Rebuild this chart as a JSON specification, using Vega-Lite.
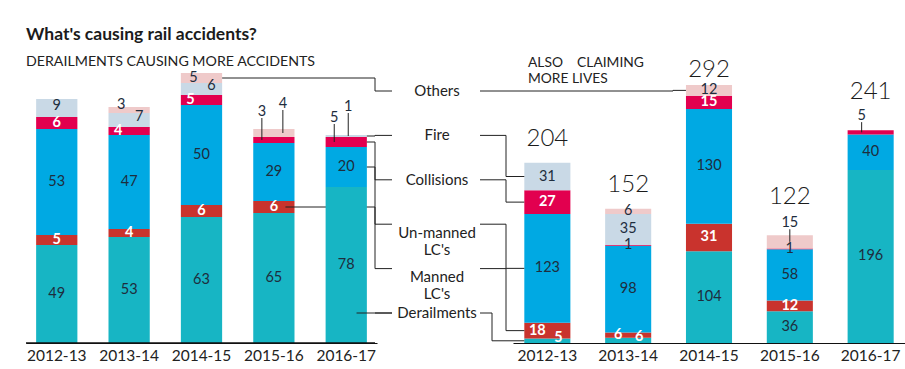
{
  "$schema": "https://vega.github.io/schema/vega-lite/v6.json",
  "width": 879,
  "height": 280,
  "autosize": "none",
  "padding": {"left": 26, "top": 63, "right": 0, "bottom": 26},
  "background": "#ffffff",
  "config": {
    "view": {"stroke": null},
    "font": "Lato",
    "text": {"font": "Lato"},
    "rule": {"color": "#222222", "strokeWidth": 1}
  },
  "title": {
    "text": "What's causing rail accidents?",
    "subtitle": "DERAILMENTS CAUSING MORE ACCIDENTS",
    "anchor": "start",
    "frame": "group",
    "font": "Lato",
    "fontSize": 17.5,
    "fontWeight": "bold",
    "color": "#1b1b1b",
    "subtitleFont": "Lato",
    "subtitleFontSize": 14.2,
    "subtitleColor": "#222222",
    "subtitlePadding": 11,
    "offset": -13
  },
  "datasets": {
    "left": [
      {"year": "2012-13", "cause": "Derailments", "value": 49},
      {"year": "2012-13", "cause": "Manned LC's", "value": 5},
      {"year": "2012-13", "cause": "Un-manned LC's", "value": 53},
      {"year": "2012-13", "cause": "Collisions", "value": 6},
      {"year": "2012-13", "cause": "Fire", "value": 9},
      {"year": "2013-14", "cause": "Derailments", "value": 53},
      {"year": "2013-14", "cause": "Manned LC's", "value": 4},
      {"year": "2013-14", "cause": "Un-manned LC's", "value": 47},
      {"year": "2013-14", "cause": "Collisions", "value": 4},
      {"year": "2013-14", "cause": "Fire", "value": 7},
      {"year": "2013-14", "cause": "Others", "value": 3},
      {"year": "2014-15", "cause": "Derailments", "value": 63},
      {"year": "2014-15", "cause": "Manned LC's", "value": 6},
      {"year": "2014-15", "cause": "Un-manned LC's", "value": 50},
      {"year": "2014-15", "cause": "Collisions", "value": 5},
      {"year": "2014-15", "cause": "Fire", "value": 6},
      {"year": "2014-15", "cause": "Others", "value": 5},
      {"year": "2015-16", "cause": "Derailments", "value": 65},
      {"year": "2015-16", "cause": "Manned LC's", "value": 6},
      {"year": "2015-16", "cause": "Un-manned LC's", "value": 29},
      {"year": "2015-16", "cause": "Collisions", "value": 3},
      {"year": "2015-16", "cause": "Others", "value": 4},
      {"year": "2016-17", "cause": "Derailments", "value": 78},
      {"year": "2016-17", "cause": "Un-manned LC's", "value": 20},
      {"year": "2016-17", "cause": "Collisions", "value": 5},
      {"year": "2016-17", "cause": "Fire", "value": 1}
    ],
    "right": [
      {"year": "2012-13", "cause": "Derailments", "value": 5},
      {"year": "2012-13", "cause": "Manned LC's", "value": 18},
      {"year": "2012-13", "cause": "Un-manned LC's", "value": 123},
      {"year": "2012-13", "cause": "Collisions", "value": 27},
      {"year": "2012-13", "cause": "Fire", "value": 31},
      {"year": "2013-14", "cause": "Derailments", "value": 6},
      {"year": "2013-14", "cause": "Manned LC's", "value": 6},
      {"year": "2013-14", "cause": "Un-manned LC's", "value": 98},
      {"year": "2013-14", "cause": "Collisions", "value": 1},
      {"year": "2013-14", "cause": "Fire", "value": 35},
      {"year": "2013-14", "cause": "Others", "value": 6},
      {"year": "2014-15", "cause": "Derailments", "value": 104},
      {"year": "2014-15", "cause": "Manned LC's", "value": 31},
      {"year": "2014-15", "cause": "Un-manned LC's", "value": 130},
      {"year": "2014-15", "cause": "Collisions", "value": 15},
      {"year": "2014-15", "cause": "Others", "value": 12},
      {"year": "2015-16", "cause": "Derailments", "value": 36},
      {"year": "2015-16", "cause": "Manned LC's", "value": 12},
      {"year": "2015-16", "cause": "Un-manned LC's", "value": 58},
      {"year": "2015-16", "cause": "Collisions", "value": 1},
      {"year": "2015-16", "cause": "Others", "value": 15},
      {"year": "2016-17", "cause": "Derailments", "value": 196},
      {"year": "2016-17", "cause": "Un-manned LC's", "value": 40},
      {"year": "2016-17", "cause": "Collisions", "value": 5}
    ],
    "legend": [
      {"cause": "Others"},
      {"cause": "Fire"},
      {"cause": "Collisions"},
      {"cause": "Un-manned LC's"},
      {"cause": "Manned LC's"},
      {"cause": "Derailments"}
    ]
  },
  "resolve": {
    "scale": {"x": "independent", "y": "independent"},
    "axis": {"x": "independent", "y": "independent"}
  },
  "layer": [
    {
      "data": {"name": "left"},
      "transform": [
        {"calculate": "indexof([\"Derailments\",\"Manned LC's\",\"Un-manned LC's\",\"Collisions\",\"Fire\",\"Others\"], datum.cause)", "as": "ord"},
        {"calculate": "datum.year + '|' + datum.cause", "as": "key"},
        {"stack": "value", "groupby": ["year"], "sort": [{"field": "ord", "order": "ascending"}], "as": ["v0", "v1"]},
        {"calculate": "(datum.v0 + datum.v1) / 2", "as": "mid"},
        {"joinaggregate": [{"op": "sum", "field": "value", "as": "total"}], "groupby": ["year"]}
      ],
      "layer": [
        {
          "transform": [{"filter": "datum.year != '2016-17'"}],
          "mark": {"type": "bar"},
          "encoding": {
            "x": {
              "field": "year", "type": "nominal",
              "scale": {"range": [0, 351], "paddingInner": 0.43, "paddingOuter": 0.14, "domain": ["2012-13", "2013-14", "2014-15", "2015-16", "2016-17"]},
              "axis": {"orient": "bottom", "title": null, "domain": true, "zindex": 2, "ticks": false, "bandPosition": 0.5, "labelAngle": 0, "labelAlign": "center", "labelBaseline": "top", "labelFont": "Lato", "labelFontSize": 15.5, "labelColor": "#222222", "labelPadding": 5, "domainColor": "#111111", "domainWidth": 1.2, "grid": false}
            },
            "y": {"field": "v0", "type": "quantitative", "scale": {"domain": [0, 140], "nice": false}, "axis": null},
            "y2": {"field": "v1"},
            "color": {
              "field": "cause", "type": "nominal", "legend": null,
              "scale": {
                "domain": ["Derailments", "Manned LC's", "Un-manned LC's", "Collisions", "Fire", "Others"],
                "range": ["#17b5c4", "#c9332d", "#00a9e3", "#e2004f", "#c9d9e6", "#efcaca"]
              }
            }
          }
        },
        {
          "transform": [{"filter": "indexof([\"2015-16|Manned LC's\"], datum.key) >= 0"}],
          "mark": {"type": "rule"},
          "encoding": {
            "x": {"field": "year", "type": "nominal", "bandPosition": 0.78},
            "x2": {"value": 349},
            "y": {"field": "mid", "type": "quantitative"}
          }
        },
        {
          "transform": [{"filter": "datum.year == '2016-17'"}],
          "mark": {"type": "bar"},
          "encoding": {
            "x": {"field": "year", "type": "nominal"},
            "y": {"field": "v0", "type": "quantitative"},
            "y2": {"field": "v1"},
            "color": {"field": "cause", "type": "nominal", "legend": null}
          }
        },
        {
          "transform": [{"filter": "indexof([\"2014-15|Others\",\"2016-17|Fire\",\"2016-17|Collisions\",\"2016-17|Un-manned LC's\"], datum.key) >= 0"}],
          "mark": {"type": "rule"},
          "encoding": {
            "x": {"field": "year", "type": "nominal", "bandPosition": 1},
            "x2": {"value": 349},
            "y": {"field": "mid", "type": "quantitative"}
          }
        },
        {
          "transform": [{"filter": "indexof([\"2014-15|Others\",\"2016-17|Fire\",\"2016-17|Collisions\",\"2016-17|Un-manned LC's\",\"2015-16|Manned LC's\"], datum.key) >= 0"}],
          "mark": {"type": "rule"},
          "encoding": {
            "x": {"value": 349},
            "y": {"field": "mid", "type": "quantitative"},
            "y2": {"value": {"expr": "28 + 44.4 * indexof([\"Others\",\"Fire\",\"Collisions\",\"Un-manned LC's\",\"Manned LC's\",\"Derailments\"], datum.cause)"}}
          }
        },
        {
          "transform": [{"filter": "(datum.ord == 0 || datum.ord == 2 || datum.ord >= 4) && indexof([\"2012-13|Fire\",\"2013-14|Others\",\"2014-15|Others\",\"2013-14|Fire\",\"2014-15|Fire\",\"2015-16|Others\",\"2016-17|Fire\"], datum.key) < 0"}],
          "mark": {"type": "text", "fontSize": 14.5, "color": "#1e2d3d", "baseline": "middle"},
          "encoding": {
            "x": {"field": "year", "type": "nominal"},
            "y": {"field": "mid", "type": "quantitative"},
            "text": {"field": "value"}
          }
        },
        {
          "transform": [{"filter": "datum.key == '2012-13|Fire'"}],
          "mark": {"type": "text", "fontSize": 14.5, "color": "#1e2d3d", "baseline": "middle", "dy": -2},
          "encoding": {
            "x": {"field": "year", "type": "nominal"},
            "y": {"field": "mid", "type": "quantitative"},
            "text": {"field": "value"}
          }
        },
        {
          "transform": [{"filter": "(datum.ord == 1 || datum.ord == 3) && indexof([\"2013-14|Collisions\",\"2014-15|Collisions\",\"2015-16|Collisions\",\"2016-17|Collisions\"], datum.key) < 0"}],
          "mark": {"type": "text", "fontSize": 14.5, "fontWeight": "bold", "color": "#ffffff", "baseline": "middle"},
          "encoding": {
            "x": {"field": "year", "type": "nominal"},
            "y": {"field": "mid", "type": "quantitative"},
            "text": {"field": "value"}
          }
        },
        {
          "transform": [{"filter": "indexof([\"2013-14|Collisions\",\"2014-15|Collisions\"], datum.key) >= 0"}],
          "mark": {"type": "text", "fontSize": 14.5, "fontWeight": "bold", "color": "#ffffff", "baseline": "middle", "dx": -11},
          "encoding": {
            "x": {"field": "year", "type": "nominal"},
            "y": {"field": "mid", "type": "quantitative"},
            "text": {"field": "value"}
          }
        },
        {
          "transform": [{"filter": "indexof([\"2013-14|Others\"], datum.key) >= 0"}],
          "mark": {"type": "text", "fontSize": 14.5, "color": "#1e2d3d", "baseline": "middle", "dx": -8, "dy": -5},
          "encoding": {
            "x": {"field": "year", "type": "nominal"},
            "y": {"field": "mid", "type": "quantitative"},
            "text": {"field": "value"}
          }
        },
        {
          "transform": [{"filter": "indexof([\"2014-15|Others\"], datum.key) >= 0"}],
          "mark": {"type": "text", "fontSize": 14.5, "color": "#1e2d3d", "baseline": "middle", "dx": -8, "dy": 0},
          "encoding": {
            "x": {"field": "year", "type": "nominal"},
            "y": {"field": "mid", "type": "quantitative"},
            "text": {"field": "value"}
          }
        },
        {
          "transform": [{"filter": "indexof([\"2013-14|Fire\",\"2014-15|Fire\"], datum.key) >= 0"}],
          "mark": {"type": "text", "fontSize": 14.5, "color": "#1e2d3d", "baseline": "middle", "dx": 10, "dy": -3},
          "encoding": {
            "x": {"field": "year", "type": "nominal"},
            "y": {"field": "mid", "type": "quantitative"},
            "text": {"field": "value"}
          }
        },
        {
          "transform": [{"filter": "indexof([\"2015-16|Collisions\",\"2016-17|Collisions\"], datum.key) >= 0"}],
          "mark": {"type": "text", "fontSize": 14.5, "color": "#1e2d3d", "baseline": "middle", "dx": -12, "dy": -17.5},
          "encoding": {
            "x": {"field": "year", "type": "nominal"},
            "y": {"field": "total", "type": "quantitative"},
            "text": {"field": "value"}
          }
        },
        {
          "transform": [{"filter": "indexof([\"2015-16|Collisions\",\"2016-17|Collisions\"], datum.key) >= 0"}],
          "mark": {"type": "rule", "xOffset": -12, "y2Offset": -11},
          "encoding": {
            "x": {"field": "year", "type": "nominal"},
            "y": {"field": "mid", "type": "quantitative"},
            "y2": {"field": "total"}
          }
        },
        {
          "transform": [{"filter": "indexof([\"2015-16|Others\"], datum.key) >= 0"}],
          "mark": {"type": "text", "fontSize": 14.5, "color": "#1e2d3d", "baseline": "middle", "dx": 9, "dy": -25},
          "encoding": {
            "x": {"field": "year", "type": "nominal"},
            "y": {"field": "total", "type": "quantitative"},
            "text": {"field": "value"}
          }
        },
        {
          "transform": [{"filter": "indexof([\"2015-16|Others\"], datum.key) >= 0"}],
          "mark": {"type": "rule", "xOffset": 9, "y2Offset": -19},
          "encoding": {
            "x": {"field": "year", "type": "nominal"},
            "y": {"field": "mid", "type": "quantitative"},
            "y2": {"field": "total"}
          }
        },
        {
          "transform": [{"filter": "indexof([\"2016-17|Fire\"], datum.key) >= 0"}],
          "mark": {"type": "text", "fontSize": 14.5, "color": "#1e2d3d", "baseline": "middle", "dx": 2, "dy": -28},
          "encoding": {
            "x": {"field": "year", "type": "nominal"},
            "y": {"field": "total", "type": "quantitative"},
            "text": {"field": "value"}
          }
        },
        {
          "transform": [{"filter": "indexof([\"2016-17|Fire\"], datum.key) >= 0"}],
          "mark": {"type": "rule", "xOffset": 2, "y2Offset": -22},
          "encoding": {
            "x": {"field": "year", "type": "nominal"},
            "y": {"field": "mid", "type": "quantitative"},
            "y2": {"field": "total"}
          }
        },
        {
          "transform": [{"filter": "indexof([\"2016-17|Derailments\"], datum.key) >= 0"}],
          "mark": {"type": "rule"},
          "encoding": {
            "x": {"field": "year", "type": "nominal", "bandPosition": 0.75},
            "x2": {"value": 366},
            "y": {"value": 250}
          }
        }
      ]
    },
    {
      "data": {"name": "right"},
      "transform": [
        {"calculate": "indexof([\"Derailments\",\"Manned LC's\",\"Un-manned LC's\",\"Collisions\",\"Fire\",\"Others\"], datum.cause)", "as": "ord"},
        {"calculate": "datum.year + '|' + datum.cause", "as": "key"},
        {"stack": "value", "groupby": ["year"], "sort": [{"field": "ord", "order": "ascending"}], "as": ["v0", "v1"]},
        {"calculate": "(datum.v0 + datum.v1) / 2", "as": "mid"},
        {"joinaggregate": [{"op": "sum", "field": "value", "as": "total"}], "groupby": ["year"]}
      ],
      "layer": [
        {
          "transform": [{"filter": "indexof([\"2014-15|Others\",\"2012-13|Fire\",\"2012-13|Collisions\",\"2012-13|Un-manned LC's\",\"2012-13|Manned LC's\",\"2012-13|Derailments\"], datum.key) >= 0"}],
          "mark": {"type": "rule"},
          "encoding": {
            "x": {"value": {"expr": "datum.cause == 'Others' ? 647 : (datum.cause == 'Derailments' ? 466 : 480)"}},
            "y": {"field": "mid", "type": "quantitative", "scale": {"domain": [0, 317], "nice": false}, "axis": null},
            "y2": {"value": {"expr": "28 + 44.4 * indexof([\"Others\",\"Fire\",\"Collisions\",\"Un-manned LC's\",\"Manned LC's\",\"Derailments\"], datum.cause)"}}
          }
        },
        {
          "mark": {"type": "bar"},
          "encoding": {
            "x": {
              "field": "year", "type": "nominal",
              "scale": {"range": [487, 879], "paddingInner": 0.43, "paddingOuter": 0.14},
              "axis": {"orient": "bottom", "title": null, "domain": true, "zindex": 2, "ticks": false, "bandPosition": 0.5, "labelAngle": 0, "labelAlign": "center", "labelBaseline": "top", "labelFont": "Lato", "labelFontSize": 15.5, "labelColor": "#222222", "labelPadding": 5, "domainColor": "#111111", "domainWidth": 1.2, "grid": false}
            },
            "y": {"field": "v0", "type": "quantitative", "scale": {"domain": [0, 317], "nice": false}, "axis": null},
            "y2": {"field": "v1"},
            "color": {
              "field": "cause", "type": "nominal", "legend": null,
              "scale": {
                "domain": ["Derailments", "Manned LC's", "Un-manned LC's", "Collisions", "Fire", "Others"],
                "range": ["#17b5c4", "#c9332d", "#00a9e3", "#e2004f", "#c9d9e6", "#efcaca"]
              }
            }
          }
        },
        {
          "transform": [{"filter": "indexof([\"2014-15|Others\",\"2012-13|Fire\",\"2012-13|Collisions\",\"2012-13|Un-manned LC's\",\"2012-13|Manned LC's\",\"2012-13|Derailments\"], datum.key) >= 0"}],
          "mark": {"type": "rule"},
          "encoding": {
            "x": {"field": "year", "type": "nominal", "bandPosition": 0},
            "x2": {"value": {"expr": "datum.cause == 'Others' ? 647 : (datum.cause == 'Derailments' ? 466 : 480)"}},
            "y": {"field": "mid", "type": "quantitative"}
          }
        },
        {
          "transform": [{"filter": "(datum.ord == 0 || datum.ord == 2 || datum.ord >= 4 || (datum.ord == 3 && datum.value < 5)) && indexof([\"2012-13|Derailments\",\"2013-14|Derailments\",\"2015-16|Others\",\"2016-17|Collisions\"], datum.key) < 0"}],
          "mark": {"type": "text", "fontSize": 14.5, "color": "#1e2d3d", "baseline": "middle"},
          "encoding": {
            "x": {"field": "year", "type": "nominal"},
            "y": {"field": "mid", "type": "quantitative"},
            "text": {"field": "value"}
          }
        },
        {
          "transform": [{"filter": "(datum.ord == 1 || (datum.ord == 3 && datum.value >= 5)) && indexof([\"2012-13|Manned LC's\",\"2013-14|Manned LC's\",\"2016-17|Collisions\"], datum.key) < 0"}],
          "mark": {"type": "text", "fontSize": 14.5, "fontWeight": "bold", "color": "#ffffff", "baseline": "middle"},
          "encoding": {
            "x": {"field": "year", "type": "nominal"},
            "y": {"field": "mid", "type": "quantitative"},
            "text": {"field": "value"}
          }
        },
        {
          "transform": [{"filter": "indexof([\"2012-13|Derailments\",\"2013-14|Derailments\"], datum.key) >= 0"}],
          "mark": {"type": "text", "fontSize": 14.5, "fontWeight": "bold", "color": "#ffffff", "baseline": "middle", "dx": 11, "dy": -3},
          "encoding": {
            "x": {"field": "year", "type": "nominal"},
            "y": {"field": "mid", "type": "quantitative"},
            "text": {"field": "value"}
          }
        },
        {
          "transform": [{"filter": "indexof([\"2012-13|Manned LC's\",\"2013-14|Manned LC's\"], datum.key) >= 0"}],
          "mark": {"type": "text", "fontSize": 14.5, "fontWeight": "bold", "color": "#ffffff", "baseline": "middle", "dx": -10},
          "encoding": {
            "x": {"field": "year", "type": "nominal"},
            "y": {"field": "mid", "type": "quantitative"},
            "text": {"field": "value"}
          }
        },
        {
          "transform": [{"filter": "indexof([\"2015-16|Others\"], datum.key) >= 0"}],
          "mark": {"type": "text", "fontSize": 14.5, "color": "#1e2d3d", "baseline": "middle", "dy": -12},
          "encoding": {
            "x": {"field": "year", "type": "nominal"},
            "y": {"field": "total", "type": "quantitative"},
            "text": {"field": "value"}
          }
        },
        {
          "transform": [{"filter": "indexof([\"2015-16|Others\"], datum.key) >= 0"}],
          "mark": {"type": "rule", "y2Offset": -6},
          "encoding": {
            "x": {"field": "year", "type": "nominal"},
            "y": {"field": "mid", "type": "quantitative"},
            "y2": {"field": "total"}
          }
        },
        {
          "transform": [{"filter": "indexof([\"2016-17|Collisions\"], datum.key) >= 0"}],
          "mark": {"type": "text", "fontSize": 14.5, "color": "#1e2d3d", "baseline": "middle", "dx": -9, "dy": -14},
          "encoding": {
            "x": {"field": "year", "type": "nominal"},
            "y": {"field": "total", "type": "quantitative"},
            "text": {"field": "value"}
          }
        },
        {
          "transform": [{"filter": "indexof([\"2016-17|Collisions\"], datum.key) >= 0"}],
          "mark": {"type": "rule", "xOffset": -9, "y2Offset": -8},
          "encoding": {
            "x": {"field": "year", "type": "nominal"},
            "y": {"field": "mid", "type": "quantitative"},
            "y2": {"field": "total"}
          }
        },
        {
          "transform": [{"filter": "datum.ord == 0 && datum.year == '2014-15'"}],
          "mark": {"type": "text", "fontSize": 24, "fontWeight": 300, "color": "#1b1b1b", "baseline": "alphabetic", "dy": -8},
          "encoding": {
            "x": {"field": "year", "type": "nominal"},
            "y": {"field": "total", "type": "quantitative"},
            "text": {"field": "total"}
          }
        },
        {
          "transform": [{"filter": "datum.ord == 0 && (datum.year == '2012-13' || datum.year == '2013-14')"}],
          "mark": {"type": "text", "fontSize": 24, "fontWeight": 300, "color": "#1b1b1b", "baseline": "alphabetic", "dy": -17},
          "encoding": {
            "x": {"field": "year", "type": "nominal"},
            "y": {"field": "total", "type": "quantitative"},
            "text": {"field": "total"}
          }
        },
        {
          "transform": [{"filter": "datum.ord == 0 && (datum.year == '2015-16' || datum.year == '2016-17')"}],
          "mark": {"type": "text", "fontSize": 24, "fontWeight": 300, "color": "#1b1b1b", "baseline": "alphabetic", "dy": -31},
          "encoding": {
            "x": {"field": "year", "type": "nominal"},
            "y": {"field": "total", "type": "quantitative"},
            "text": {"field": "total"}
          }
        }
      ]
    },
    {
      "data": {"name": "legend"},
      "layer": [
        {
          "transform": [{"filter": "indexof(datum.cause, ' ') < 0"}],
          "mark": {"type": "text", "fontSize": 15, "color": "#222222", "baseline": "middle", "align": "center"},
          "encoding": {
            "x": {"value": 411},
            "y": {"field": "cause", "type": "nominal", "scale": {"type": "point", "padding": 0, "domain": ["Others", "Fire", "Collisions", "Un-manned LC's", "Manned LC's", "Derailments"], "range": [28, 250]}, "axis": null},
            "text": {"field": "cause"}
          }
        },
        {
          "transform": [{"filter": "indexof(datum.cause, ' ') >= 0"}],
          "mark": {"type": "text", "fontSize": 15, "color": "#222222", "baseline": "middle", "align": "center", "lineBreak": " ", "lineHeight": 17, "dy": 8.5},
          "encoding": {
            "x": {"value": 411},
            "y": {"field": "cause", "type": "nominal"},
            "text": {"field": "cause"}
          }
        },
        {
          "mark": {"type": "rule"},
          "encoding": {
            "x": {"value": 349},
            "x2": {"value": 366},
            "y": {"field": "cause", "type": "nominal"}
          }
        },
        {
          "mark": {"type": "rule"},
          "encoding": {
            "x": {"value": 454},
            "x2": {"value": {"expr": "datum.cause == 'Others' ? 647 : (datum.cause == 'Derailments' ? 466 : 480)"}},
            "y": {"field": "cause", "type": "nominal"}
          }
        },
        {
          "transform": [{"filter": "datum.cause == 'Derailments'"}],
          "mark": {"type": "rule", "color": "#111111", "strokeWidth": 1.3},
          "encoding": {
            "x": {"value": 0},
            "x2": {"value": 349},
            "y": {"value": 280}
          }
        },
        {
          "data": {"values": [{"note": "ALSO\u00a0\u00a0\u00a0\u00a0CLAIMING|MORE LIVES"}]},
          "mark": {"type": "text", "fontSize": 13.8, "color": "#222222", "baseline": "alphabetic", "align": "left", "lineBreak": "|", "lineHeight": 16},
          "encoding": {
            "x": {"value": 502},
            "y": {"value": 4},
            "text": {"field": "note"}
          }
        }
      ]
    }
  ]
}
